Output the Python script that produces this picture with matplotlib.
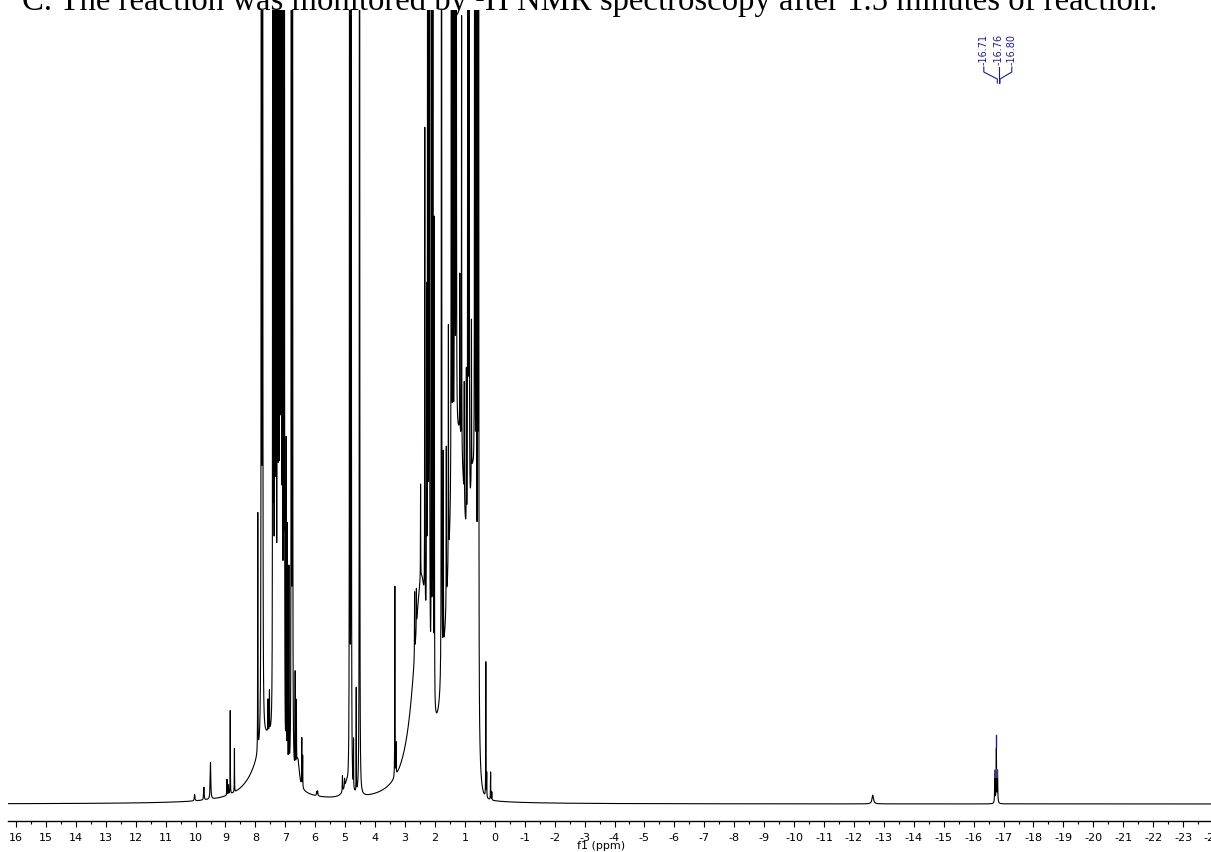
import numpy as np
import matplotlib
matplotlib.use("Agg")
import matplotlib.pyplot as plt
from matplotlib.lines import Line2D
from matplotlib.patches import Rectangle

plt.rcParams['axes.unicode_minus'] = False

# ---------------- data ----------------
title_text = "C. The reaction was monitored by \u00b9H NMR spectroscopy after 1.5 minutes of reaction."
xlabel_text = "f1 (ppm)"

tick_ppm = list(range(16, -25, -1))
tick_labels = [str(t) for t in tick_ppm]

# sharp resonances (Lorentzian): position (ppm), height, half width (ppm)
peak_ppm = [10.03, 9.72, 9.50, 8.95, 8.90, 8.84, 8.70,
            7.92, 7.80, 7.76, 7.58, 7.53,
            7.42, 7.39, 7.35, 7.31, 7.26, 7.22, 7.18, 7.14, 7.10, 7.06, 7.03,
            6.97, 6.93, 6.88, 6.80, 6.76, 6.67, 6.63, 6.45, 6.42,
            5.95, 5.92, 5.09, 5.02, 4.85, 4.80, 4.72, 4.63, 4.52,
            3.34, 3.30, 2.68, 2.62, 2.48, 2.34, 2.28, 2.24, 2.19, 2.12, 2.07, 2.02,
            1.78, 1.72, 1.62, 1.55, 1.45, 1.40, 1.34, 1.29, 1.17, 1.11, 1.02, 0.95,
            0.90, 0.86, 0.78, 0.67, 0.62, 0.57, 0.54,
            0.30, 0.27, 0.14, 0.10,
            -12.63, -16.71, -16.76, -16.80]
peak_height = [0.8, 1.6, 4.6, 2.0, 1.2, 10.5, 5.5,
               30, 800, 800, 4, 5,
               400, 300, 800, 600, 1000, 500, 1000, 800, 600, 400, 300,
               40, 30, 25, 500, 600, 12, 8, 6, 4,
               0.5, 0.6, 2.0, 1.0, 1500, 1500, 6, 13, 1500,
               24, 4, 8, 5, 12, 60, 40, 800, 900, 200, 900, 60,
               500, 25, 20, 30, 500, 300, 500, 500, 20, 55, 15, 20,
               500, 500, 20, 600, 600, 500, 400,
               17, 3, 3.5, 1.0,
               1.1, 4.0, 6.8, 4.0]
peak_hwhm = [0.012, 0.010, 0.012, 0.006, 0.006, 0.004, 0.004,
             0.004, 0.003, 0.003, 0.004, 0.004,
             0.003, 0.003, 0.003, 0.003, 0.003, 0.003, 0.003, 0.003, 0.003, 0.003, 0.003,
             0.004, 0.004, 0.004, 0.003, 0.003, 0.004, 0.004, 0.004, 0.004,
             0.010, 0.010, 0.006, 0.006, 0.002, 0.002, 0.003, 0.003, 0.002,
             0.004, 0.005, 0.004, 0.004, 0.004, 0.004, 0.004, 0.003, 0.003, 0.003, 0.003, 0.004,
             0.003, 0.004, 0.004, 0.004, 0.003, 0.003, 0.003, 0.003, 0.004, 0.004, 0.004, 0.004,
             0.003, 0.003, 0.004, 0.003, 0.003, 0.003, 0.003,
             0.004, 0.004, 0.005, 0.005,
             0.030, 0.008, 0.008, 0.008]

# broad Lorentzian bands: centre, height, half width on high-ppm side, on low-ppm side
band_ppm = [7.60, 6.58, 4.95, 2.45]
band_height = [8.0, 3.5, 1.5, 28.0]
band_w_hi = [0.50, 0.08, 0.12, 0.32]
band_w_lo = [0.50, 0.06, 0.05, 0.25]

# broad Gaussian bands: centre, height, sigma high side, sigma low side
gband_ppm = [1.20, 0.72]
gband_height = [45.0, 30.0]
gband_s_hi = [0.35, 0.10]
gband_s_lo = [0.27, 0.10]

label_ppm = [-16.71, -16.76, -16.80]
label_text = ["-16.71", "-16.76", "-16.80"]

# ---------------- layout ----------------
W, H = 1211, 852
DPI = 100
X0_PX, PX_PER_PPM = 496.0, 30.0           # pixel of 0 ppm, pixels per ppm
AX_LEFT_PX, AX_RIGHT_PX = 8, 1228
AX_TOP_PX, AX_BOTTOM_PX = 10, 821
BASE_PX = 804

def ppm_at(px):
    return (X0_PX - px) / PX_PER_PPM

def fx(px):
    return px / W

def fy(py):
    return 1 - py / H

units_per_px = 100.0 / (BASE_PX - AX_TOP_PX)
y_bottom = -(AX_BOTTOM_PX - BASE_PX) * units_per_px

fig = plt.figure(figsize=(W / DPI, H / DPI), dpi=DPI)
ax = fig.add_axes([fx(AX_LEFT_PX), fy(AX_BOTTOM_PX),
                   (AX_RIGHT_PX - AX_LEFT_PX) / W, (AX_BOTTOM_PX - AX_TOP_PX) / H])
ax.patch.set_alpha(0)

# ---------------- spectrum ----------------
x = np.arange(-24.6, 16.6, 0.0005)
y = np.zeros_like(x)
for p, a, w in zip(peak_ppm, peak_height, peak_hwhm):
    y += a * w * w / ((x - p) ** 2 + w * w)
for c, a, wh, wl in zip(band_ppm, band_height, band_w_hi, band_w_lo):
    w = np.where(x >= c, wh, wl)
    y += a * w * w / ((x - c) ** 2 + w * w)
for c, a, sh, sl in zip(gband_ppm, gband_height, gband_s_hi, gband_s_lo):
    s = np.where(x >= c, sh, sl)
    y += a * np.exp(-0.5 * ((x - c) / s) ** 2)

ax.plot(x, y, color="black", lw=0.8)

ax.set_xlim(ppm_at(AX_LEFT_PX), ppm_at(AX_RIGHT_PX))
ax.set_ylim(y_bottom, 100)

for s in ("top", "left", "right"):
    ax.spines[s].set_visible(False)
ax.spines["bottom"].set_linewidth(1.0)
ax.set_yticks([])
ax.set_xticks(tick_ppm)
ax.set_xticklabels(tick_labels, fontsize=8, family="DejaVu Sans")
ax.set_xticks([t - 0.5 for t in tick_ppm], minor=True)
ax.tick_params(axis="x", which="major", length=4.3, width=0.8, direction="out", pad=4.0)
ax.tick_params(axis="x", which="minor", length=2.2, width=0.8, direction="out")

fig.text(fx(601), fy(846), xlabel_text, fontsize=8, family="DejaVu Sans",
         ha="center", va="center")

# ---------------- peak annotation ----------------
navy = "#1c1c8c"
lab_dx = [-15, 0, 13]
centre_px = X0_PX - PX_PER_PPM * label_ppm[1]
for p, t, dx in zip(label_ppm, label_text, lab_dx):
    lx = centre_px + dx
    px = X0_PX - PX_PER_PPM * p
    fig.text(fx(lx), fy(65), t, rotation=90, fontsize=7, color=navy,
             family="DejaVu Sans", ha="center", va="bottom")
    fig.add_artist(Line2D([fx(lx), fx(lx), fx(px), fx(px)],
                          [fy(67), fy(72), fy(79), fy(83)], color=navy, lw=0.8))

# marker above hydride peak
hp = label_ppm[1]
ax.plot([hp, hp], [(BASE_PX - 747) * units_per_px, (BASE_PX - 735) * units_per_px],
        color=navy, lw=1.0)
ax.add_patch(Rectangle((hp - 0.07, (BASE_PX - 778) * units_per_px), 0.14,
                       9 * units_per_px, color="#6f6fd0", alpha=0.55, lw=0, zorder=3))

# ---------------- title (clipped at top) ----------------
t = fig.text(fx(22), fy(10), title_text, family="Liberation Serif", fontsize=23,
             ha="left", va="baseline")
fig.canvas.draw()
bb = t.get_window_extent()
t.set_fontsize(23 * 1136.0 / bb.width)

fig.savefig("out.png", dpi=DPI)
